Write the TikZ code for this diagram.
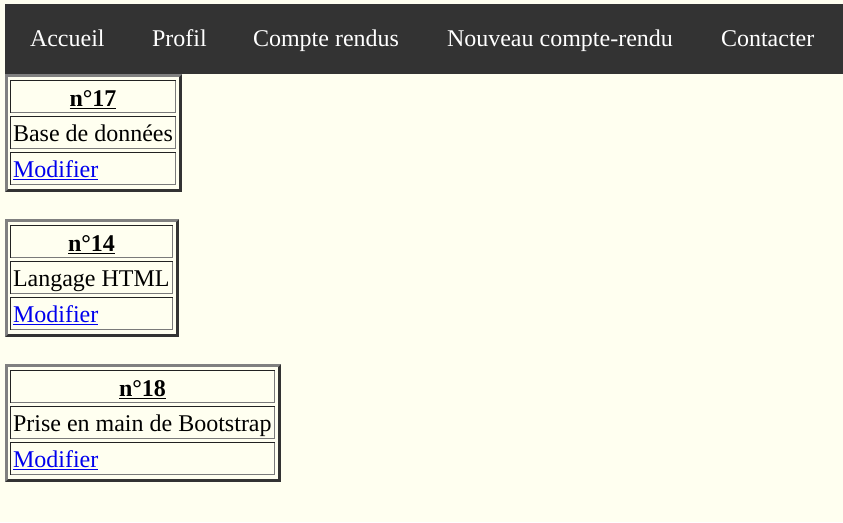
\documentclass[tikz,border=0pt]{standalone}
\usepackage{fontspec}
\setmainfont{Liberation Serif}
\definecolor{bgc}{HTML}{FFFFF0}
\definecolor{navc}{HTML}{333333}
\definecolor{grayb}{HTML}{808080}
\definecolor{darkb}{HTML}{333333}
\definecolor{celldarkc}{HTML}{222222}
\definecolor{cellgrayc}{HTML}{7A7A7A}
\definecolor{linkc}{HTML}{0000EE}
\newcommand\outsetbox[4]{%
  \fill[darkb] (#1,#2) rectangle (#3,#4);
  \fill[grayb] (#1,#2) -- (#3,#2) -- (#3-3,#2+3) -- (#1+3,#2+3) -- (#1+3,#4-3) -- (#1,#4) -- cycle;
  \fill[bgc] (#1+3,#2+3) rectangle (#3-3,#4-3);}
\newcommand\insetcell[4]{%
  \draw[cellline,cellgrayc] (#1+0.5,#4-0.5) -- (#3-0.5,#4-0.5) -- (#3-0.5,#2+0.5);
  \draw[cellline,celldarkc] (#1+0.5,#4-0.5) -- (#1+0.5,#2+0.5) -- (#3-0.5,#2+0.5);}
\begin{document}
\begin{tikzpicture}[x=1pt,y=-1pt,
  txt/.style={inner sep=0pt,outer sep=0pt,anchor=base west,font=\fontsize{24}{28}\selectfont},
  navtxt/.style={txt,text=white},
  head/.style={txt,anchor=base,font=\fontsize{24}{28}\selectfont\bfseries},
  linktxt/.style={txt,text=linkc},
  uline/.style={line width=1.5pt},
  cellline/.style={line width=1pt}]
\useasboundingbox (0,0) rectangle (843,522);
\fill[bgc] (0,0) rectangle (843,522);
% navigation bar
\fill[navc] (5,4) rectangle (843,74);
\node[navtxt] (nav1) at (30,46) {Accueil};
\node[navtxt] (nav2) at (152,46) {Profil};
\node[navtxt] (nav3) at (253,46) {Compte rendus};
\node[navtxt] (nav4) at (447,46) {Nouveau compte-rendu};
\node[navtxt] (nav5) at (721,46) {Contacter};
% table 1
\outsetbox{5}{74}{182}{192}
\insetcell{10}{80}{176}{113}
\insetcell{10}{116}{176}{149}
\insetcell{10}{152}{176}{185}
\node[head] (t1h) at (93,106) {n°17};
\draw[uline] ([yshift=-2.5pt]t1h.base west) -- ([yshift=-2.5pt]t1h.base east);
\node[txt] (t1t) at (13,141) {Base de données};
\node[linktxt] (t1l) at (13,177) {Modifier};
\draw[uline,linkc] ([yshift=-2.5pt]t1l.base west) -- ([yshift=-2.5pt]t1l.base east);
% table 2
\outsetbox{5}{219}{179}{337}
\insetcell{10}{225}{173}{258}
\insetcell{10}{261}{173}{294}
\insetcell{10}{297}{173}{330}
\node[head] (t2h) at (91.5,251) {n°14};
\draw[uline] ([yshift=-2.5pt]t2h.base west) -- ([yshift=-2.5pt]t2h.base east);
\node[txt] (t2t) at (13,286) {Langage HTML};
\node[linktxt] (t2l) at (13,322) {Modifier};
\draw[uline,linkc] ([yshift=-2.5pt]t2l.base west) -- ([yshift=-2.5pt]t2l.base east);
% table 3
\outsetbox{5}{364}{281}{482}
\insetcell{10}{370}{275}{403}
\insetcell{10}{406}{275}{439}
\insetcell{10}{442}{275}{475}
\node[head] (t3h) at (142.5,396) {n°18};
\draw[uline] ([yshift=-2.5pt]t3h.base west) -- ([yshift=-2.5pt]t3h.base east);
\node[txt] (t3t) at (13,431) {Prise en main de Bootstrap};
\node[linktxt] (t3l) at (13,467) {Modifier};
\draw[uline,linkc] ([yshift=-2.5pt]t3l.base west) -- ([yshift=-2.5pt]t3l.base east);
\end{tikzpicture}
\end{document}
